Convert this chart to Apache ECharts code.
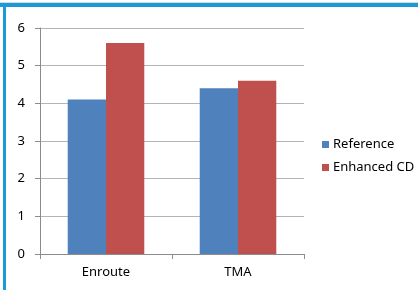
<!DOCTYPE html>
<html>
<head>
<meta charset="utf-8">
<script src="https://cdn.jsdelivr.net/npm/echarts@6/dist/echarts.min.js"></script>
<style>
  html, body { margin: 0; padding: 0; background: #fff; }
  #chart { width: 418px; height: 290px; }
</style>
</head>
<body>
<div id="chart"></div>
<script>
var categories = ['Enroute', 'TMA'];
var referenceValues = [4.1, 4.4];
var enhancedValues = [5.6, 4.6];
var yTicks = [0, 1, 2, 3, 4, 5, 6];

var chart = echarts.init(document.getElementById('chart'));
var font = 'Noto Sans';

var option = {
    animation: false,
    textStyle: { fontFamily: font },
    graphic: [
        // frame lines, top and left
        { type: 'rect', shape: { x: 0, y: 2, width: 418, height: 1 }, style: { fill: '#d8d8d8' } },
        { type: 'rect', shape: { x: 0, y: 3, width: 418, height: 4 }, style: { fill: '#1a9ad9' } },
        { type: 'rect', shape: { x: 3, y: 3, width: 3, height: 287 }, style: { fill: '#1a9ad9' } }
    ],
    grid: { left: 40, top: 28, right: 114, bottom: 36 },
    legend: {
        orient: 'vertical',
        left: 317,
        top: 132,
        itemWidth: 7,
        itemHeight: 7,
        itemGap: 8,
        icon: 'rect',
        textStyle: { fontFamily: font, fontSize: 13, color: '#000', lineHeight: 15, padding: [0, 0, 0, -1] },
        data: ['Reference', 'Enhanced CD']
    },
    xAxis: {
        type: 'category',
        data: categories,
        axisLine: { lineStyle: { color: '#8c8c8c' } },
        axisTick: { show: true, length: 5, alignWithLabel: false, lineStyle: { color: '#8c8c8c' } },
        axisLabel: { color: '#000', fontSize: 13, margin: 12, fontFamily: font }
    },
    yAxis: {
        type: 'value',
        min: yTicks[0],
        max: yTicks[yTicks.length - 1],
        interval: 1,
        axisLine: { show: true, lineStyle: { color: '#8c8c8c' } },
        axisTick: { show: true, length: 5, lineStyle: { color: '#8c8c8c' } },
        splitLine: { lineStyle: { color: '#b4b4b4' } },
        axisLabel: { color: '#000', fontSize: 13, margin: 15, fontFamily: font }
    },
    series: [
        {
            name: 'Reference',
            type: 'bar',
            data: referenceValues,
            barGap: '0%',
            barCategoryGap: '42%',
            itemStyle: { color: '#4f81bd' }
        },
        {
            name: 'Enhanced CD',
            type: 'bar',
            data: enhancedValues,
            barGap: '0%',
            barCategoryGap: '42%',
            itemStyle: { color: '#c0504d' }
        }
    ]
};

chart.setOption(option);
</script>
</body>
</html>
